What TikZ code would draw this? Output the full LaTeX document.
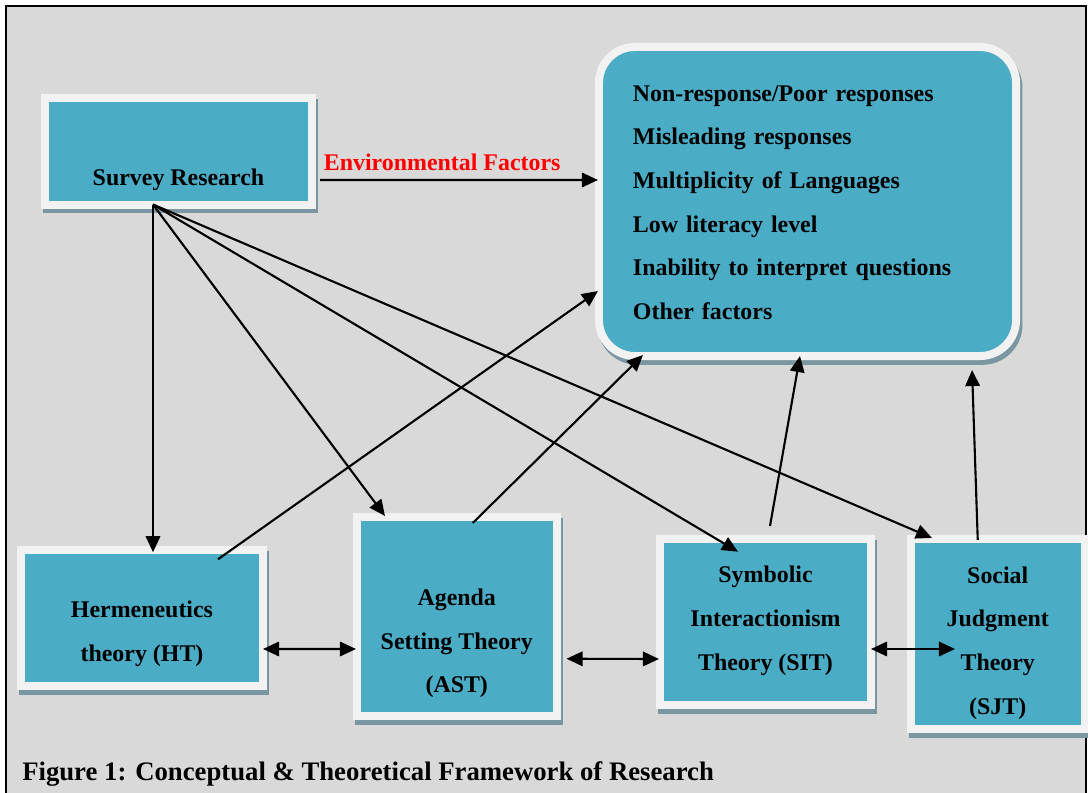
\documentclass[tikz,border=0pt]{standalone}
\usepackage{fontspec}
\setmainfont{Liberation Serif}
\usetikzlibrary{arrows.meta, shadows, calc}
\definecolor{boxblue}{RGB}{75,172,198}
\definecolor{bandwhite}{RGB}{242,242,242}
\definecolor{shadowgray}{RGB}{122,151,161}
\definecolor{bggray}{RGB}{217,217,217}
\tikzstyle{theory} = [rectangle, inner sep=0pt, outer sep=0pt, draw=bandwhite, line width=0.2cm, fill=boxblue, align=center, font=\bfseries\fontsize{17}{31}\selectfont, drop shadow={shadow xshift=0.06cm, shadow yshift=-0.12cm, draw=shadowgray, fill=shadowgray, line width=0.2cm, opacity=1}]
\tikzstyle{factors} = [theory, rounded corners=0.9cm, align=left, text width=8.725cm, inner xsep=0.85cm, inner ysep=0pt]
\tikzstyle{myarrow} = [-{Triangle[length=0.4cm, width=0.36cm]}, line width=1.5pt]
\tikzstyle{twoway} = [{Triangle[length=0.4cm, width=0.36cm]}-{Triangle[length=0.4cm, width=0.36cm]}, line width=1.5pt]
\begin{document}
\begin{tikzpicture}[x=0.025cm, y=-0.025cm]
\useasboundingbox (0,0) rectangle (1088,793);
\fill[white] (0,0) rectangle (1088,793);
\fill[bggray] (6,6) rectangle (1086,800);
\draw[line width=0.05cm] (6,800) -- (6,6) -- (1086,6) -- (1086,800);

% boxes
\node[theory, minimum width=6.675cm, minimum height=2.6625cm] (survey) at (178.5,151.25) {\strut\\[6pt]\strut Survey Research};
\node[factors, minimum width=10.425cm, minimum height=7.725cm] (factors) at (807.5,201.5) {\strut Non-response/Poor responses\\\strut Misleading responses\\\strut Multiplicity of Languages\\\strut Low literacy level\\\strut Inability to interpret questions\\\strut Other factors};
\node[theory, minimum width=6.05cm, minimum height=3.3875cm] (herm) at (142,618) {\strut\\[-12.5pt]\strut Hermeneutics\\\strut theory (HT)};
\node[theory, minimum width=4.9875cm, minimum height=4.9625cm] (agenda) at (456.75,616.75) {\strut\\[3pt]\strut Agenda\\\strut Setting Theory\\\strut (AST)};
\node[theory, minimum width=5.275cm, minimum height=4.1625cm] (symbolic) at (765.5,622) {\strut Symbolic\\\strut Interactionism\\\strut Theory (SIT)\\[-25pt]\strut};
\node[theory, minimum width=4.3375cm, minimum height=4.75cm] (social) at (997.75,634) {\strut\\[-22.5pt]\strut Social\\\strut Judgment\\\strut Theory\\\strut (SJT)};

% arrows
\coordinate (src) at ([shift={(-25.5,0)}]survey.south);
\draw [myarrow] ([shift={(8,-24.5)}]survey.south east) -- node[pos=0, anchor=base west, inner sep=0pt, xshift=2pt, yshift=7pt, text=red, font=\bfseries\fontsize{17}{31}\selectfont] (envlabel) {Environmental Factors} ([shift={(-1,-21.5)}]factors.west);
\draw [myarrow] (src) -- ([shift={(11,2)}]herm.north);
\draw [myarrow] (src) -- ([shift={(28,-1.5)}]agenda.north west);
\draw [myarrow] (src) -- ([shift={(78,13)}]symbolic.north west);
\draw [myarrow] (src) -- ([shift={(21,-1)}]social.north west);
\draw [myarrow] ([shift={(-45,9)}]herm.north east) -- ([shift={(-1,-65)}]factors.south west);
\draw [myarrow] ([shift={(16,5.5)}]agenda.north) -- ([shift={(44,-1)}]factors.south west);
\draw [myarrow] ([shift={(4.5,-12.75)}]symbolic.north) -- ([shift={(-7.5,0)}]factors.south);
\draw [myarrow] ([shift={(-20,1)}]social.north) -- ([shift={(-44,14)}]factors.south east);
\draw [twoway] ([shift={(0,31)}]herm.east) -- ([shift={(-1,32.25)}]agenda.west);
\draw [twoway] ([shift={(10,42)}]agenda.east) -- ([shift={(-1,37)}]symbolic.west);
\draw [twoway] ([shift={(0,27)}]symbolic.east) -- ([shift={(44,15)}]social.west);

\node[anchor=base west, inner sep=0pt, font=\bfseries\fontsize{19}{23}\selectfont] (caption) at (22,781) {Figure 1: Conceptual \& Theoretical Framework of Research};
\end{tikzpicture}
\end{document}
